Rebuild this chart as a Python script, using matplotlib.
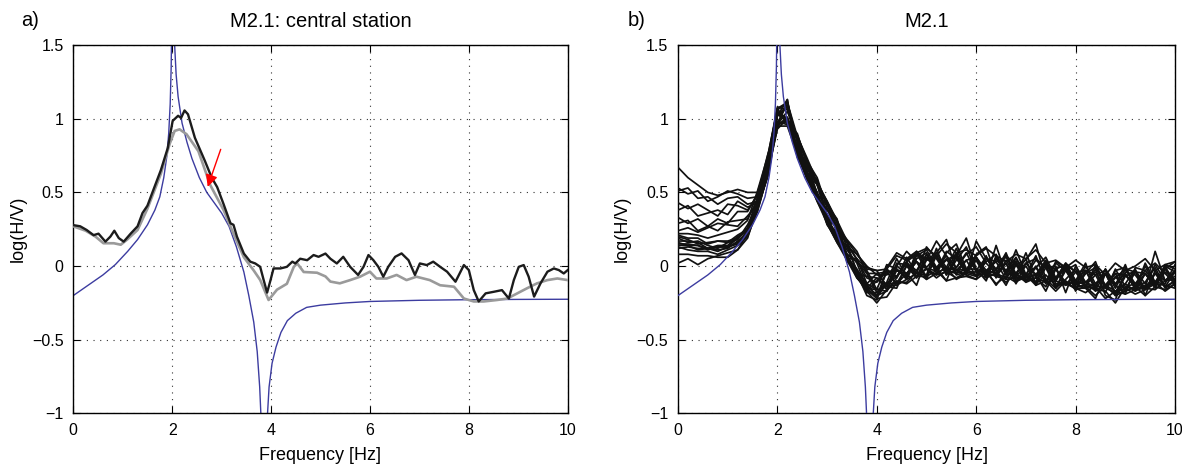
import matplotlib
matplotlib.use('Agg')
import matplotlib.pyplot as plt
import numpy as np

plt.rcParams['font.family'] = ['Liberation Sans', 'DejaVu Sans']

# theoretical H/V curve (blue)
model_f = [0.0, 0.3, 0.6, 0.85, 1.1, 1.3, 1.5, 1.65, 1.75, 1.83, 1.89, 1.93, 1.96, 1.98, 2.01,
           2.05, 2.08, 2.12, 2.2, 2.3, 2.4, 2.55, 2.7, 2.85, 3.0, 3.15, 3.3, 3.45, 3.55, 3.65,
           3.72, 3.77, 3.80, 3.86, 3.92, 3.96, 4.02, 4.1, 4.2, 4.33, 4.5, 4.72, 5.0, 5.5, 6.0,
           7.0, 8.0, 9.0, 10.0]
model_hv = [-0.2, -0.13, -0.06, 0.01, 0.1, 0.18, 0.28, 0.38, 0.47, 0.6, 0.74, 0.9, 1.1, 1.35, 2.2,
            1.5, 1.3, 1.15, 0.97, 0.84, 0.73, 0.6, 0.5, 0.43, 0.36, 0.27, 0.13, -0.04, -0.2, -0.38,
            -0.58, -0.82, -1.05, -1.6, -1.05, -0.82, -0.66, -0.55, -0.45, -0.37, -0.32, -0.28, -0.265,
            -0.25, -0.24, -0.232, -0.228, -0.226, -0.225]

# panel a: central station, black and gray measurements
a_black_f = [0.0, 0.14, 0.27, 0.41, 0.51, 0.65, 0.75, 0.83, 0.92, 1.02, 1.16, 1.3, 1.4, 1.5, 1.64,
             1.77, 1.91, 2.01, 2.12, 2.18, 2.25, 2.32, 2.46, 2.66, 2.8, 2.91, 3.04, 3.18, 3.24, 3.31,
             3.45, 3.58, 3.68, 3.78, 3.85, 3.92, 3.99, 4.05, 4.19, 4.32, 4.43, 4.49, 4.59, 4.73, 4.86,
             4.96, 5.1, 5.2, 5.33, 5.46, 5.6, 5.76, 5.87, 5.97, 6.07, 6.17, 6.27, 6.37, 6.51, 6.64,
             6.78, 6.91, 7.01, 7.15, 7.28, 7.42, 7.56, 7.73, 7.9, 8.0, 8.1, 8.2, 8.34, 8.51, 8.67,
             8.81, 8.91, 9.01, 9.11, 9.21, 9.32, 9.45, 9.59, 9.72, 9.82, 9.92, 10.0]
a_black = [0.278, 0.27, 0.245, 0.21, 0.22, 0.166, 0.2, 0.24, 0.19, 0.166, 0.22, 0.27, 0.36, 0.41, 0.535,
           0.65, 0.8, 0.985, 1.02, 1.005, 1.056, 1.03, 0.87, 0.715, 0.6, 0.536, 0.42, 0.29, 0.28, 0.2,
           0.085, 0.03, 0.018, -0.005, -0.094, -0.18, -0.094, -0.016, -0.016, -0.005, 0.03, 0.018, 0.05, 0.04, 0.075,
           0.063, 0.085, 0.05, 0.018, 0.063, -0.005, -0.06, -0.005, 0.075, 0.04, -0.005, -0.072, -0.005, 0.063, 0.086,
           0.04, -0.06, 0.018, 0.007, 0.03, -0.005, -0.038, -0.106, 0.007, -0.027, -0.163, -0.24, -0.185, -0.174, -0.163,
           -0.22, -0.095, -0.005, 0.007, -0.072, -0.207, -0.117, -0.038, -0.016, -0.027, -0.05, -0.027]

a_gray_f = [0.0, 0.25, 0.45, 0.61, 0.82, 0.96, 1.09, 1.3, 1.5, 1.77, 1.95, 2.05, 2.15, 2.29, 2.53,
            2.77, 3.04, 3.24, 3.45, 3.65, 3.78, 3.95, 4.12, 4.32, 4.46, 4.53, 4.66, 4.93, 5.1, 5.2,
            5.39, 5.6, 5.8, 6.0, 6.13, 6.34, 6.54, 6.74, 6.94, 7.21, 7.42, 7.7, 7.9, 8.1, 8.3,
            8.57, 8.78, 8.98, 9.18, 9.38, 9.59, 9.79, 10.0]
a_gray = [0.27, 0.24, 0.2, 0.155, 0.155, 0.145, 0.18, 0.245, 0.39, 0.625, 0.83, 0.917, 0.928, 0.895, 0.78,
          0.55, 0.38, 0.22, 0.06, -0.03, -0.094, -0.23, -0.16, -0.12, -0.005, 0.018, -0.04, -0.045, -0.07, -0.105,
          -0.117, -0.095, -0.072, -0.038, -0.084, -0.084, -0.06, -0.095, -0.072, -0.095, -0.13, -0.14, -0.22, -0.24, -0.24,
          -0.23, -0.22, -0.185, -0.15, -0.117, -0.095, -0.084, -0.095]

arrow_tail = (3.0, 0.81)
arrow_tip = (2.7, 0.52)

# panel b: all stations, sampled every 0.2 Hz
b_f = [round(0.2 * i, 1) for i in range(51)]
b_mid = [0.18, 0.17, 0.15, 0.14, 0.14, 0.15, 0.19, 0.28, 0.45, 0.68,
         1.0, 1.03, 0.82, 0.66, 0.52, 0.36, 0.24, 0.11, 0.0, -0.1,
         -0.13, -0.09, -0.05, -0.02, 0.0, 0.01, 0.02, 0.02, 0.02, 0.01,
         0.01, 0.0, 0.0, -0.01, -0.02, -0.03, -0.03, -0.04, -0.05, -0.06,
         -0.07, -0.08, -0.09, -0.1, -0.1, -0.09, -0.09, -0.08, -0.08, -0.07,
         -0.07]
# each station's departure from b_mid, in hundredths
b_dev = [
    [49, 43, 40, 36, 34, 35, 33, 22, 5, 3, 5, -3, 7, 5, 3, 8, 5, 2, -3, -7, 3, 8, 14, 7, 10, 3, 15, 5, -3, 7,
     12, 2, -5, 8, 3, -7, 2, 10, -3, 5, -8, 3, 12, -5, 2, 7, -3, 5, 10, 2, -5],
    [35, 32, 36, 30, 33, 36, 30, 18, 2, -5, -3, 7, -5, -3, 7, -2, -5, 3, 5, 8, 10, -5, -10, 3, -8, 7, -3, -12, 5, 18,
     -3, -10, 7, -5, 13, -3, -8, 5, -10, 3, 8, -7, -13, 5, -3, 10, -8, 3, -5, 8, 5],
    [33, 36, 31, 33, 28, 31, 28, 14, -1, 2, 2, 5, 3, -7, -3, 5, 8, -5, -7, -3, -7, -8, 5, 12, 3, -10, 7, 16, -5, 3,
     -8, 5, -3, -12, 3, 7, 18, -5, -3, 8, 3, -5, 7, -10, -13, 5, 3, -7, 18, -3, 3],
    [25, 22, 27, 24, 20, 27, 22, 10, 3, 7, -5, 10, -7, 3, -5, -3, 3, 7, 10, 5, 8, 5, -7, -3, -13, 5, -5, 3, -8, -5,
     7, 13, -7, 3, -10, 5, -3, -13, 3, 7, -5, 3, 8, -3, 5, -8, -5, 3, -7, 5, 10],
    [20, 24, 19, 22, 24, 20, 25, 12, -2, -7, 3, -5, -5, -7, -2, -7, -3, -5, -7, -8, -5, -2, 10, -5, 8, -3, -8, 7, 13, -3,
     -7, 3, 8, -5, -3, 8, -10, 3, 5, -12, 7, -3, -5, 8, -10, -3, 7, -12, 5, -8, -3],
    [15, 12, 17, 13, 18, 14, 18, 9, 4, 3, 7, -7, 8, 2, 5, 7, -2, -3, 3, 7, -3, 10, 3, -7, 5, 8, -7, -3, 10, -5,
     3, -8, 14, -5, 7, -3, 10, -7, -5, 8, -3, 10, -7, 5, -3, -10, 8, 5, -3, 7, -7],
    [11, 14, 9, 13, 10, 15, 12, 4, 0, 5, 8, 3, 5, -3, -7, 3, 0, 5, -5, -10, -10, 7, -3, 8, -5, -7, 10, -8, 5, -7,
     -10, 7, -8, 5, -5, 12, -5, -7, 8, 5, -10, 5, 3, -8, 8, -5, -7, 10, -3, -5, 8],
    [6, 9, 8, 12, 15, 13, 8, 6, -3, -5, -7, -3, -3, -2, -5, 2, 7, -7, -5, -5, 5, -7, 2, -5, 7, 10, -3, 5, -7, 3,
     5, -5, -3, 10, -7, -3, 7, 3, -10, -3, 5, -7, 10, -5, 7, 8, -5, -3, 7, -7, 3],
    [3, 2, 4, 1, 3, 2, 0, -2, 2, 2, 3, 5, 2, 0, 3, -3, -5, -3, 3, 5, -5, -3, -7, 2, -8, 3, 5, -5, -3, 8,
     -5, -3, 3, -8, 5, -5, -3, 8, -5, -7, 3, 5, -7, -3, 5, 3, -5, 8, -5, 3, -2],
    [1, -1, 2, 0, -2, 1, -1, 0, -4, -3, -5, -2, -5, 3, -3, -5, -7, 2, 8, 10, 7, 3, 5, -3, 3, -8, 5, -5, 7, -5,
     5, -7, -5, 3, -8, -5, 3, -8, 7, 3, -7, -5, 3, 7, -5, 7, 5, -8, 3, -3, 0],
    [-1, 0, 1, -2, 0, -1, 1, -4, -2, 3, 7, 8, 3, 5, 8, 3, 2, -3, -5, 3, 5, -5, -8, -7, -5, -3, -10, -5, -7, -3,
     5, -3, -13, -3, -5, -7, -2, -5, -10, 5, -5, -7, -5, -12, -7, -3, -8, -5, -3, -10, -5],
    [-3, -2, -1, -3, -1, -2, -4, -7, -5, -3, -2, -7, -2, 3, -3, -5, 3, -8, -3, -2, -3, -8, -3, 5, 8, 3, 7, -3, -5, -7,
     16, 5, 3, 7, -3, 5, 8, 3, -5, 7, 3, -3, 5, -5, 3, -7, 5, 3, -5, 7, 3],
    [-4, -3, -4, -2, -3, -3, -2, -5, -6, -7, 3, -3, -7, -7, -8, -5, -3, -7, -8, -5, -3, -5, 7, 3, -5, 12, 3, -7, -5, -3,
     -3, -5, 5, -3, 5, -7, -5, 7, -7, -5, -8, -7, -3, 5, -8, 3, -5, -7, -3, 5, -5],
    [-5, -6, -5, -4, -6, -4, -5, -8, -7, -7, 2, 10, -8, -3, -2, -7, -8, -5, -2, -3, -7, 5, 2, -3, 3, -3, -5, 8, 3, -5,
     -7, -3, -5, -7, 3, -5, -3, 5, 3, -7, -3, -5, -7, -7, -15, -5, -3, -7, 3, -7, -3],
    [-10, -9, -8, -7, -8, -9, -8, -9, -5, -8, -5, -2, -3, -5, -8, -7, -8, -7, -3, -7, -12, -7, -5, -10, -7, -3, -8, -6, -10, -8,
     -10, -4, -7, -8, -6, -3, -9, -2, -8, -6, -8, -10, -4, -5, -8, -6, -10, -8, -4, -6, -8],
    [-16, -12, -14, -9, -7, -6, -8, -6, -4, -5, -3, -5, 0, -2, -3, -5, -2, 0, 2, -5, -8, -3, -2, 5, -7, -8, -5, -12, -10, -5,
     -5, -8, -5, -10, -3, -8, -5, -10, 3, -5, -5, -3, -8, -3, -7, -10, -7, -7, -8, -3, -2],
    [2, 1, 0, 2, 3, 1, 2, -3, -3, -2, 4, -3, 5, -6, 4, -2, 3, -6, 5, -2, 8, -4, 3, -6, 10, -2, 5, -8, 2, 12,
     -4, 6, -2, 9, -5, 3, -8, 6, -3, 4, -6, 8, -3, 5, -9, 2, 6, -4, 9, -3, 4],
    [-2, -3, -1, -2, -4, -2, -3, -6, -8, -6, -5, -8, -6, -7, -4, -8, -6, -5, -8, -6, -9, -12, -6, -9, -4, -10, -7, -3, -11, -6,
     -8, -4, -12, -6, -9, -3, -10, -6, -12, -4, -9, -6, -11, -3, -10, -8, -5, -12, -6, -9, -5],
    [4, 5, 6, 5, 7, 8, 6, 3, 6, 6, 6, 8, 6, 7, 5, 8, 7, 6, 8, 9, 10, 7, 12, 6, 9, 11, 5, 13, 7, 10,
     6, 12, 7, 4, 10, 8, 14, 6, 9, 5, 11, 7, 10, 4, 12, 6, 9, 13, 5, 8, 10],
    [-6, -4, -3, -2, -1, -2, 0, -4, -2, 3, -4, 2, 6, 5, 4, 6, 3, 5, 4, 2, 2, 6, -2, 4, -3, 7, -4, 2, 6, -5,
     3, -6, 5, -2, 8, -4, 2, -7, 4, 6, -3, 5, -5, 8, -2, 4, -6, 3, -4, 6, -3],
]

blue = '#3c3ca0'
fig = plt.figure(figsize=(11.82, 4.65), dpi=100)
ax1 = fig.add_axes([0.062, 0.1108, 0.4183, 0.7924])
ax2 = fig.add_axes([0.5736, 0.1108, 0.4205, 0.7924])

ax1.plot(model_f, model_hv, color=blue, lw=1.0, zorder=2)
ax1.plot(a_gray_f, a_gray, color='#9a9a9a', lw=1.9, zorder=3)
ax1.plot(a_black_f, a_black, color='#1c1c1c', lw=1.7, zorder=4)
ax1.annotate('', xy=arrow_tip, xytext=arrow_tail,
             arrowprops=dict(arrowstyle='-|>', color='red', lw=1.0, mutation_scale=18), zorder=5)

mid = np.array(b_mid)
for dev in b_dev:
    ax2.plot(b_f, mid + np.array(dev) / 100.0, color='#111111', lw=1.25, zorder=3)
ax2.plot(model_f, model_hv, color=blue, lw=1.0, zorder=4)

for ax, title in [(ax1, 'M2.1: central station'), (ax2, 'M2.1')]:
    ax.set_xlim(0, 10)
    ax.set_ylim(-1, 1.5)
    ax.set_xticks([0, 2, 4, 6, 8, 10])
    ax.set_yticks([-1, -0.5, 0, 0.5, 1, 1.5])
    ax.set_yticklabels(['\u22121', '\u22120.5', '0', '0.5', '1', '1.5'])
    ax.grid(True, linestyle=(0, (1, 5)), color='#333333', lw=0.8)
    ax.tick_params(direction='in', top=True, right=True, length=5, labelsize=11.5, pad=7)
    for s in ax.spines.values():
        s.set_linewidth(1.0)
    ax.set_xlabel('Frequency [Hz]', fontsize=13, labelpad=6)
    ax.set_ylabel('log(H/V)', fontsize=13, labelpad=4)
    ax.set_title(title, fontsize=14.5, pad=13)

fig.text(0.018, 0.945, 'a)', fontsize=14.5)
fig.text(0.531, 0.945, 'b)', fontsize=14.5)

fig.savefig('out.png', dpi=100)
